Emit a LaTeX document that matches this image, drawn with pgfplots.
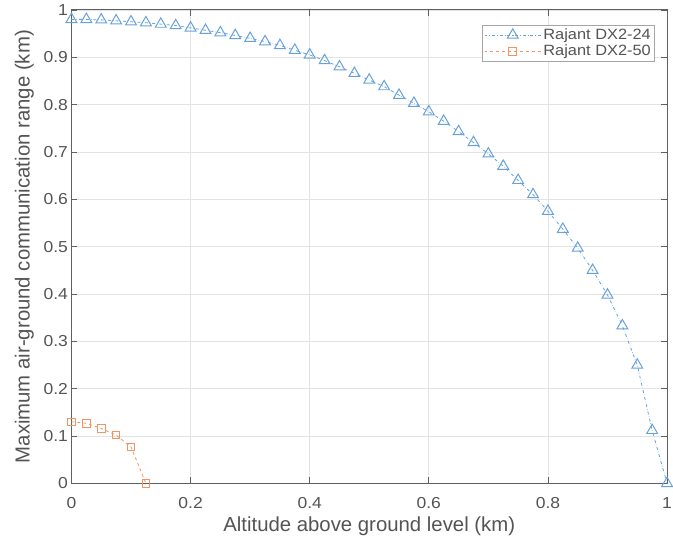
\documentclass[border=0pt]{standalone}
\usepackage{pgfplots}
\pgfplotsset{compat=1.18}
\usetikzlibrary{calc}
\usepackage{fontspec}
\setmainfont{Liberation Sans}
\newfontfamily\sfont[FakeStretch=1.1]{Liberation Sans}
\definecolor{mblue}{rgb}{0.40,0.63,0.86}
\definecolor{morange}{rgb}{0.94,0.58,0.38}
\definecolor{txt}{rgb}{0.33,0.33,0.33}
\begin{document}
\begin{tikzpicture}
\begin{axis}[
  scale only axis,
  width=600pt, height=477pt,
  xmin=0, xmax=1, ymin=0, ymax=1,
  xtick={0,0.2,0.4,0.6,0.8,1},
  ytick={0,0.1,0.2,0.3,0.4,0.5,0.6,0.7,0.8,0.9,1},
  xticklabels={0,0.2,0.4,0.6,0.8,1},
  yticklabels={0,0.1,0.2,0.3,0.4,0.5,0.6,0.7,0.8,0.9,1},
  tick align=inside,
  major tick length=6pt,
  grid=major,
  grid style={gray!22, line width=0.7pt},
  axis line style={gray!75!black, line width=1pt},
  tick style={gray!75!black, line width=0.8pt},
  ticklabel style={font=\sfont\fontsize{16}{18}\selectfont, text=txt},
  xticklabel style={anchor=base, yshift=-25pt},
  xlabel={Altitude above ground level (km)},
  ylabel={Maximum air-ground communication range (km)},
  xlabel style={at={(axis description cs:0.5,0)}, anchor=base, yshift=-48pt, font=\fontsize{20.5}{22}\selectfont, text=txt},
  ylabel style={font=\fontsize{20.5}{22}\selectfont, text=txt, yshift=3pt},
  legend style={at={(0.98,0.969)}, anchor=north east, font=\sfont\fontsize{15}{16}\selectfont, text=txt, draw=gray!70, line width=0.7pt, inner sep=2pt, row sep=0pt},
  legend cell align=left,
  legend image code/.code={\draw[mark repeat=2,mark phase=2] plot coordinates {(0cm,0cm) (1cm,0cm) (2cm,0cm)};},
]
\addplot[mblue, dash dot, line width=0.8pt, mark=triangle, mark size=6.3pt, mark options={solid, line width=1pt}] coordinates {
(0,0.98) (0.025,0.98) (0.05,0.979) (0.075,0.977) (0.1,0.975) (0.125,0.973) (0.15,0.97) (0.175,0.967) (0.2,0.962) (0.225,0.957)
(0.25,0.952) (0.275,0.946) (0.3,0.94) (0.325,0.933) (0.35,0.925) (0.375,0.915) (0.4,0.905) (0.425,0.893) (0.45,0.88) (0.475,0.866)
(0.5,0.852) (0.525,0.838) (0.55,0.82) (0.575,0.803) (0.6,0.785) (0.625,0.765) (0.65,0.743) (0.675,0.72) (0.7,0.696) (0.725,0.67)
(0.75,0.64) (0.775,0.61) (0.8,0.575) (0.825,0.537) (0.85,0.497) (0.875,0.45) (0.9,0.398) (0.925,0.333) (0.95,0.25) (0.975,0.112) (1,0)
};
\addlegendentry{Rajant DX2-24}
\addplot[morange, dashed, line width=0.8pt, mark=square, mark size=3.8pt, mark options={solid, line width=1pt}] coordinates {
(0,0.13) (0.025,0.127) (0.05,0.116) (0.075,0.102) (0.1,0.077) (0.125,0)
};
\addlegendentry{Rajant DX2-50}
\end{axis}
\pgfresetboundingbox
\path ($(current axis.south west)+(-72pt,-59pt)$) rectangle ($(current axis.north east)+(6pt,10pt)$);
\end{tikzpicture}
\end{document}
